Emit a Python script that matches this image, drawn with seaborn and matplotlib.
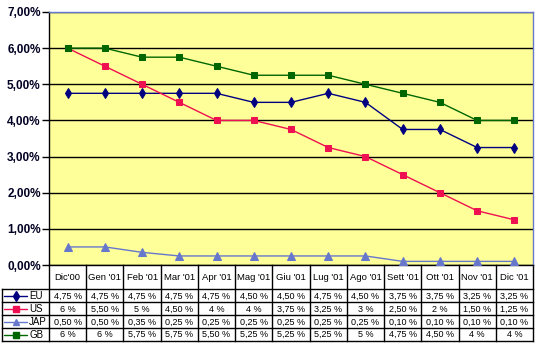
import numpy as np
import pandas as pd
import matplotlib
matplotlib.use("Agg")
import matplotlib.pyplot as plt
import matplotlib.transforms as mtrans
import seaborn as sns

months = ["Dic'00", "Gen '01", "Feb '01", "Mar '01", "Apr '01", "Mag '01", "Giu '01",
          "Lug '01", "Ago '01", "Sett '01", "Ott '01", "Nov '01", "Dic '01"]
eu = [4.75, 4.75, 4.75, 4.75, 4.75, 4.50, 4.50, 4.75, 4.50, 3.75, 3.75, 3.25, 3.25]
us = [6.00, 5.50, 5.00, 4.50, 4.00, 4.00, 3.75, 3.25, 3.00, 2.50, 2.00, 1.50, 1.25]
jap = [0.50, 0.50, 0.35, 0.25, 0.25, 0.25, 0.25, 0.25, 0.25, 0.10, 0.10, 0.10, 0.10]
gb = [6.00, 6.00, 5.75, 5.75, 5.50, 5.25, 5.25, 5.25, 5.00, 4.75, 4.50, 4.00, 4.00]
series_names = ["EU", "US", "JAP", "GB"]
series_values = [eu, us, jap, gb]
y_ticks = [0, 1, 2, 3, 4, 5, 6, 7]

colors = {"EU": "#000080", "US": "#EE1050", "JAP": "#6677CC", "GB": "#006600"}
markers = {"EU": "d", "US": "s", "JAP": "^", "GB": "s"}
msizes = {"EU": 5.5, "US": 5, "JAP": 5.5, "GB": 5}

rows = []
for name, vals in zip(series_names, series_values):
    for i, v in enumerate(vals):
        rows.append({"idx": i, "month": months[i], "value": v, "series": name})
df = pd.DataFrame(rows)

W, H = 537, 346
sns.set_style("white")
plt.rcParams['font.family'] = ['Liberation Sans', 'DejaVu Sans']

fig = plt.figure(figsize=(W / 100, H / 100), dpi=100)
fig.patch.set_facecolor("white")
ax = fig.add_axes([49 / W, (H - 265) / H, 484 / W, 253 / H])
ax.set_facecolor("#FFFF99")

for name in series_names:
    sub = df[df.series == name]
    sns.lineplot(data=sub, x="idx", y="value", ax=ax, color=colors[name],
                 marker=markers[name], markersize=msizes[name],
                 markeredgecolor=colors[name], markerfacecolor=colors[name],
                 linewidth=1.0, legend=False, zorder=3)

ax.set_xlim(-0.5, len(months) - 0.5)
ax.set_ylim(0, 7)
ax.set_yticks(y_ticks)
ax.set_yticklabels([f"{t},00%" for t in y_ticks], fontsize=8.5, fontweight='bold', color="#000022")
ax.set_xticks([])
ax.set_xlabel("")
ax.set_ylabel("")
ax.set_axisbelow(True)
ax.yaxis.grid(True, color='black', linewidth=1.0)
ax.xaxis.grid(False)
ax.tick_params(axis='y', direction='out', length=5, width=1, color='black', pad=1, left=True)
for s in ["left", "bottom"]:
    ax.spines[s].set_color("black")
    ax.spines[s].set_linewidth(1.0)
for s in ["top", "right"]:
    ax.spines[s].set_color("#6677CC")
    ax.spines[s].set_linewidth(1.0)

# --- data table below the plot ---
def fy(py):
    return 1 - py / H

trans = mtrans.blended_transform_factory(ax.transData, fig.transFigure)
ftrans = fig.transFigure

def fmt(v):
    if abs(v - round(v)) < 1e-9:
        return f"{int(round(v))} %"
    return f"{v:.2f}".replace('.', ',') + " %"

y_top = 265
y_rows = [289, 302, 315, 328, 340.5]
n = len(months)
lkw = dict(color='black', linewidth=1.0, clip_on=False, solid_capstyle='projecting')

for b in range(n + 1):
    xb = b - 0.5
    ax.plot([xb, xb], [fy(y_top), fy(y_rows[-1])], transform=trans, **lkw)
for yr in y_rows:
    fig.add_artist(plt.Line2D([1.5 / W, 533 / W], [fy(yr), fy(yr)], transform=ftrans, **lkw))
fig.add_artist(plt.Line2D([1.5 / W, 1.5 / W], [fy(y_rows[0]), fy(y_rows[-1])], transform=ftrans, **lkw))

for i, m in enumerate(months):
    ax.text(i, fy((y_top + y_rows[0]) / 2), m, transform=trans, ha='center', va='center',
            fontsize=6.8, color='black')

for r, (name, vals) in enumerate(zip(series_names, series_values)):
    yc = fy((y_rows[r] + y_rows[r + 1]) / 2 + 0.5)
    for i, v in enumerate(vals):
        ax.text(i, yc, fmt(v), transform=trans, ha='center', va='center', fontsize=6.5, color='black')
    fig.add_artist(plt.Line2D([4 / W, 27 / W], [yc, yc], transform=ftrans, color=colors[name], linewidth=1.0))
    fig.add_artist(plt.Line2D([15.5 / W], [yc], transform=ftrans, color=colors[name],
                              marker=markers[name], markersize=msizes[name] - 0.5, linestyle='none',
                              markeredgecolor=colors[name], markerfacecolor=colors[name]))
    fig.text(29 / W, yc, name, ha='left', va='center', fontsize=7, color='black')

fig.savefig("out.png", dpi=100, facecolor="white")
